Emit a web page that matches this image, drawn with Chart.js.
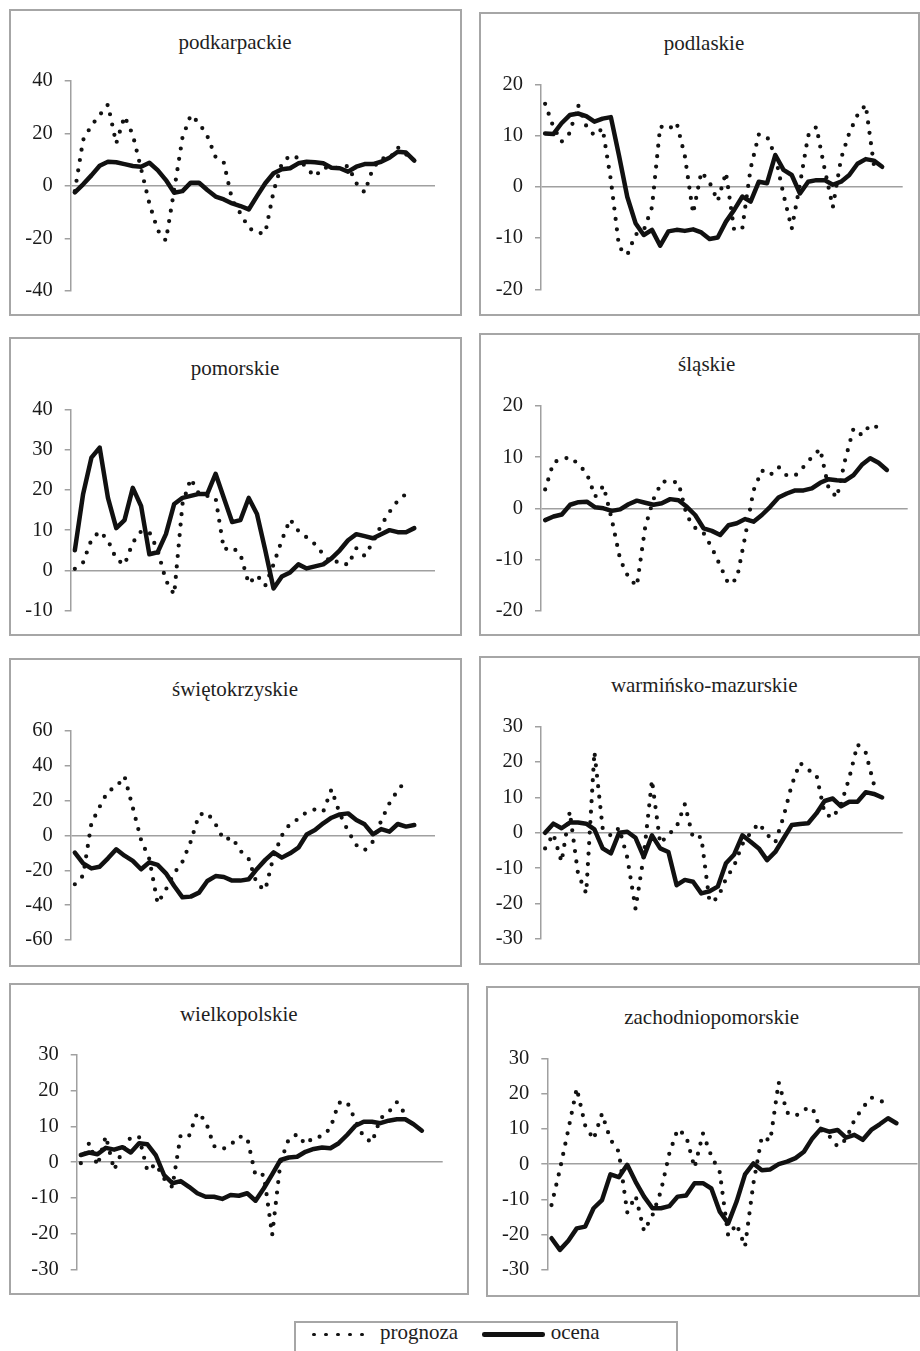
<!DOCTYPE html>
<html lang="pl">
<head>
<meta charset="utf-8">
<title>prognoza i ocena – województwa</title>
<script src="https://cdn.jsdelivr.net/npm/chart.js@4.4.1/dist/chart.umd.min.js"></script>
<style>
  html, body { margin: 0; padding: 0; background: #fff; }
  body { width: 920px; height: 1351px; position: relative; overflow: hidden;
         font-family: "Liberation Serif", "Times New Roman", "DejaVu Serif", serif; color: #222; }
  .panel { position: absolute; border: 2px solid #a6a6a6; box-sizing: border-box; }
  .title { position: absolute; width: 400px; text-align: center; font-size: 21px;
           line-height: 21px; white-space: nowrap; color: #1e1e1e; }
  canvas { position: absolute; }
  .legend-box { position: absolute; border: 2px solid #a6a6a6; box-sizing: border-box; }
  .legend-dots { position: absolute; display: flex; gap: 8.2px; }
  .legend-dots span { width: 3.8px; height: 3.8px; border-radius: 50%; background: #111; display: block; }
  .legend-line { position: absolute; height: 4.5px; border-radius: 2.25px; background: #111; }
  .legend-text { position: absolute; font-size: 21px; line-height: 21px; color: #1e1e1e; white-space: nowrap; }
</style>
</head>
<body>
<script>
// periods on the category axis (44 slots, the last two without observations)
const categories = ['1','2','3','4','5','6','7','8','9','10','11','12','13','14','15','16','17','18','19','20','21','22',
                    '23','24','25','26','27','28','29','30','31','32','33','34','35','36','37','38','39','40','41','42','43','44'];

const podkarpackiePrognoza = [-2, 17.5, 23, 27, 31, 16.2, 26.5, 19.5, 6.5, -6.7, -16.9, -20.9, -1.6, 18.4, 27, 24, 19, 11, 8.8, -5.4, -10.5, -16, -18, -18, -2.2, 8.6, 11.6, 10.6, 6.7, 3.5, 7, 6.7, 7, 7.6, 1, -2.5, 6.7, 10.5, 10.3, 14.7, 12, 10];
const podkarpackieOcena    = [-2.5, 0.6, 4, 7.7, 9.2, 9, 8.3, 7.6, 7.3, 8.8, 6, 2.2, -2.6, -2, 1.2, 1.2, -1.6, -4.1, -5.2, -6.7, -7.7, -9, -3.9, 1, 4.8, 6.3, 6.7, 8.6, 9.2, 9, 8.6, 6.9, 6.7, 5.4, 7.3, 8.3, 8.3, 9.2, 10.7, 13, 12.7, 9.6];
const podkarpackieTicks    = [-40, -20, 0, 20, 40];

const podlaskiePrognoza = [16.2, 11.7, 8.8, 10.5, 16, 11.9, 10, 11.4, 1.3, -11.8, -13.3, -9.3, -8.5, -4, 11.8, 11.2, 12.5, 6, -5.2, 2.9, 0.9, -2.8, 2.8, -8.5, -8, 3.6, 10.2, 9.8, 6, -1.5, -8.2, 0.5, 10, 11.7, 3.5, -4, 5.5, 10.5, 14, 16, 4.2, null];
const podlaskieOcena    = [10.4, 10.3, 12.4, 14, 14.3, 13.8, 12.7, 13.3, 13.6, 6, -2, -7.1, -9.4, -8.4, -11.5, -8.7, -8.4, -8.6, -8.3, -8.9, -10.2, -9.9, -6.8, -4.5, -1.9, -2.9, 1, 0.7, 6.2, 3.3, 2.3, -1.3, 1, 1.3, 1.3, 0.4, 1, 2.3, 4.5, 5.4, 5.1, 3.9];
const podlaskieTicks    = [-20, -10, 0, 10, 20];

const pomorskiePrognoza = [0.4, 2, 7.6, 9.7, 7.5, 2.8, 1.4, 6.9, 9.7, 9.5, 5, -2.5, -6, 16.5, 22.8, 19, 18.5, 18, 5.2, 5.8, 4, -3.3, -1.2, -3.8, 1.5, 7.5, 12.7, 9.8, 8.2, 6.5, 4, 1.8, 2.4, 1.3, 5.5, 3.6, 7, 11.2, 14.5, 17.3, 19, null];
const pomorskieOcena    = [5, 19, 28, 30.5, 18, 10.5, 12.5, 20.5, 16, 4, 4.5, 9, 16.5, 18, 18.5, 19, 19, 24, 18, 12, 12.5, 18, 14, 5, -4.5, -1.5, -0.5, 1.5, 0.5, 1, 1.5, 3, 5, 7.5, 9, 8.5, 8, 9, 10, 9.5, 9.5, 10.5];
const pomorskieTicks    = [-10, 0, 10, 20, 30, 40];

const slaskiePrognoza = [3.7, 9, 9.6, 10, 8.6, 6.8, 2.3, 4.4, -2.2, -10, -13.5, -15.2, -3.7, 1.8, 5.2, 5.3, 5, -1.5, -3.8, -4.8, -7.7, -11.2, -14.8, -13.8, -5.5, 3.5, 7.4, 6.5, 8.1, 6.4, 6.4, 8.1, 10, 11.6, 4, 2.1, 9.5, 15.6, 14.3, 16.3, 15.8, null];
const slaskieOcena    = [-2.3, -1.6, -1.2, 0.7, 1.2, 1.3, 0.2, 0, -0.5, -0.2, 0.8, 1.5, 1.1, 0.7, 1, 1.8, 1.6, 0.3, -1.3, -3.9, -4.4, -5.2, -3.3, -2.9, -2.1, -2.6, -1.3, 0.3, 2.1, 2.9, 3.5, 3.5, 3.9, 5, 5.7, 5.5, 5.4, 6.5, 8.5, 9.8, 8.9, 7.5];
const slaskieTicks    = [-20, -10, 0, 10, 20];

const swietokrzyskiePrognoza = [-28, -23, 7, 16.5, 25.5, 27.8, 34, 16, -2.5, -13.5, -39, -31, -21.7, -15, -3.5, 12, 13, 6.5, -2.5, -1.2, -8.8, -13.5, -28, -31.3, -12, 0, 6.8, 9.5, 13.5, 15, 13.7, 26.5, 12.5, 2.5, -5.5, -8.5, -3.5, 8.5, 18.5, 26, 31.5, null];
const swietokrzyskieOcena    = [-9.8, -16, -18.9, -17.9, -13.1, -7.9, -11.6, -14.6, -19.4, -15.4, -16.9, -21.7, -29, -35.5, -35.1, -32.8, -26.1, -23.3, -23.8, -25.9, -25.9, -25.1, -19.2, -14, -9.7, -12.7, -10.2, -7, 0.6, 3.1, 7, 10.2, 12.1, 12.7, 8.9, 6.4, 0.7, 3.7, 2.2, 6.6, 5.1, 6];
const swietokrzyskieTicks    = [-60, -40, -20, 0, 20, 40, 60];

const warminskoPrognoza = [-4.4, -0.3, -8.2, 6, -11.5, -17.1, 22.9, 1.3, -0.8, 1.4, -7, -21.5, -6.5, 14.9, -3, -0.5, 1.7, 8.1, -1.5, -1.1, -19.5, -18.5, -13, -9.3, -3.2, 0, 2.7, -0.5, -2.7, 4.5, 13.5, 19.8, 17.8, 16.5, 5.5, 4.2, 8.1, 15.5, 25, 22.7, 13.7, null];
const warminskoOcena    = [0, 2.6, 1.3, 2.9, 2.9, 2.6, 1, -4.4, -5.8, 0, 0.3, -1.4, -6.8, -0.7, -4.4, -5.4, -14.8, -13.3, -13.8, -17.1, -16.5, -15.2, -8.6, -6.1, -0.7, -2.5, -4.4, -7.7, -5.4, -1.6, 2.2, 2.5, 2.7, 5.5, 9, 9.7, 7.5, 8.8, 8.8, 11.5, 11, 10];
const warminskoTicks    = [-30, -20, -10, 0, 10, 20, 30];

const wielkopolskiePrognoza = [-0.3, 5.4, -1, 7.3, -2.2, 3.2, 7, 7, -2.5, -0.5, -4.6, -7, 7.6, 7.3, 13.9, 11.5, 4.5, 3.6, 4.8, 7.2, 6.8, -3.8, -3.5, -20.4, 0, 6.5, 7.8, 5, 7, 7.2, 9.5, 16.6, 16.9, 11.7, 7, 5.5, 12.2, 14, 16.8, 13.4, null, null];
const wielkopolskieOcena    = [2, 2.7, 2.2, 4, 3.5, 4.2, 2.7, 5.3, 5, 2, -3.6, -5.9, -5.3, -6.9, -8.7, -9.7, -9.7, -10.3, -9.2, -9.4, -8.7, -10.8, -7.3, -3.4, 0.6, 1.3, 1.5, 2.9, 3.7, 4.1, 3.9, 5.3, 7.6, 10.2, 11.3, 11.3, 10.9, 11.6, 12, 12, 10.6, 8.8];
const wielkopolskieTicks    = [-30, -20, -10, 0, 10, 20, 30];

const zachodniopomorskiePrognoza = [-11.6, -1.5, 9.8, 21.5, 11, 7, 14.3, 7, 3.5, -13.7, -9, -19, -14.5, -7.7, 3, 9.9, 8, -1, 8.7, 2.3, -2.3, -20.3, -17, -23.4, -5.4, 7.8, 6.6, 23.2, 14.6, 13.6, 15.5, 16, 9.7, 8, 5, 7, 12.5, 16, 18.9, 18, 17.2, null];
const zachodniopomorskieOcena    = [-21, -24.3, -21.7, -18.2, -17.7, -12.5, -10.2, -2.9, -3.7, -0.2, -5, -9.2, -12.5, -12.5, -11.9, -9.2, -8.9, -5.4, -5.4, -6.9, -13.5, -16.8, -10.6, -2.9, 0.2, -1.7, -1.5, 0, 0.7, 1.7, 3.5, 7.3, 10, 9.2, 9.7, 7.5, 8.3, 6.9, 9.7, 11.3, 13, 11.6];
const zachodniopomorskieTicks    = [-30, -20, -10, 0, 10, 20, 30];

// page layout of each small chart: frame box, plot area edges and title placement (px)
const panels = [
  { name: 'podkarpackie', prognoza: podkarpackiePrognoza, ocena: podkarpackieOcena, ticks: podkarpackieTicks,
    box: [10, 10, 451, 305], plot: [70.7, 435, 81, 290.7], title: [235, 50] },
  { name: 'podlaskie', prognoza: podlaskiePrognoza, ocena: podlaskieOcena, ticks: podlaskieTicks,
    box: [480, 13, 439, 302], plot: [541, 902.7, 84.3, 289.3], title: [704, 50.7] },
  { name: 'pomorskie', prognoza: pomorskiePrognoza, ocena: pomorskieOcena, ticks: pomorskieTicks,
    box: [10, 338, 451, 297], plot: [70.7, 435, 409.3, 611.7], title: [235, 375.5] },
  { name: 'śląskie', prognoza: slaskiePrognoza, ocena: slaskieOcena, ticks: slaskieTicks,
    box: [480, 334, 439, 301], plot: [541, 907.7, 406, 610.7], title: [706.7, 371.7] },
  { name: 'świętokrzyskie', prognoza: swietokrzyskiePrognoza, ocena: swietokrzyskieOcena, ticks: swietokrzyskieTicks,
    box: [10, 659, 451, 307], plot: [70.7, 435, 731, 940], title: [235, 696.7] },
  { name: 'warmińsko-mazurskie', prognoza: warminskoPrognoza, ocena: warminskoOcena, ticks: warminskoTicks,
    box: [480, 657, 439, 307], plot: [541, 902.7, 726.7, 939], title: [704.2, 692.5] },
  { name: 'wielkopolskie', prognoza: wielkopolskiePrognoza, ocena: wielkopolskieOcena, ticks: wielkopolskieTicks,
    box: [10, 984, 458, 310], plot: [76.7, 442.7, 1055, 1269.3], title: [238.8, 1021.7] },
  { name: 'zachodniopomorskie', prognoza: zachodniopomorskiePrognoza, ocena: zachodniopomorskieOcena, ticks: zachodniopomorskieTicks,
    box: [487, 987, 432, 309], plot: [547.3, 917.5, 1058.3, 1270], title: [711.7, 1025] }
];

const AXIS_GREY = '#a0a0a0';
const LINE_BLACK = '#111111';
// y-axis box wide enough that the labels (incl. the minus sign) stay inside the scale's clip area
const Y_AXIS_BOX = 58;
const FONT = "'Liberation Serif', 'Times New Roman', 'DejaVu Serif', serif";

function addFrame(p) {
  const [x, y, w, h] = p.box;
  const frame = document.createElement('div');
  frame.className = 'panel';
  frame.style.left = (x - 1) + 'px';
  frame.style.top = (y - 1) + 'px';
  frame.style.width = (w + 2) + 'px';
  frame.style.height = (h + 2) + 'px';
  document.body.appendChild(frame);

  const t = document.createElement('div');
  t.className = 'title';
  t.textContent = p.name;
  t.style.left = (p.title[0] - 200) + 'px';
  t.style.top = (p.title[1] - 17.6) + 'px';
  document.body.appendChild(t);
}

function addChart(p) {
  const [x, y, w, h] = p.box;
  const [pl, pr, pt, pb] = p.plot;
  const canvas = document.createElement('canvas');
  canvas.width = w;
  canvas.height = h;
  canvas.style.left = x + 'px';
  canvas.style.top = y + 'px';
  canvas.style.width = w + 'px';
  canvas.style.height = h + 'px';
  document.body.appendChild(canvas);

  new Chart(canvas, {
    type: 'line',
    data: {
      labels: categories,
      datasets: [
        { label: 'prognoza', data: p.prognoza, order: 1,
          borderColor: LINE_BLACK, borderWidth: 4.2, borderDash: [0, 10.5],
          borderCapStyle: 'round', borderJoinStyle: 'round',
          pointRadius: 0, tension: 0, fill: false, spanGaps: false, clip: false },
        { label: 'ocena', data: p.ocena, order: 0,
          borderColor: LINE_BLACK, borderWidth: 4.5,
          borderCapStyle: 'round', borderJoinStyle: 'round',
          pointRadius: 0, tension: 0, fill: false, clip: false }
      ]
    },
    options: {
      responsive: false,
      maintainAspectRatio: false,
      devicePixelRatio: 1,
      animation: false,
      events: [],
      layout: {
        padding: {
          left: pl - x - Y_AXIS_BOX,
          right: x + w - pr,
          top: pt - y,
          bottom: y + h - pb
        }
      },
      plugins: { legend: { display: false }, tooltip: { enabled: false }, title: { display: false } },
      scales: {
        x: { type: 'category', display: false, offset: true, grid: { display: false } },
        y: {
          position: 'left',
          min: p.ticks[0],
          max: p.ticks[p.ticks.length - 1],
          afterBuildTicks: (s) => { s.ticks = p.ticks.map(v => ({ value: v })); },
          afterFit: (s) => { s.width = Y_AXIS_BOX; },
          border: { display: true, color: AXIS_GREY, width: 1.5 },
          grid: {
            drawOnChartArea: true,
            drawTicks: true,
            tickLength: 6,
            tickColor: AXIS_GREY,
            lineWidth: 1.5,
            color: (c) => (c.tick && c.tick.value === 0) ? AXIS_GREY : 'rgba(0,0,0,0)'
          },
          ticks: {
            padding: 12,
            color: '#1a1a1a',
            font: { family: FONT, size: 20.5 },
            // plain hyphen-minus for negative values
            callback: (v) => (v < 0 ? '-' + Math.abs(v) : String(v))
          }
        }
      }
    }
  });
}

panels.forEach(p => { addFrame(p); addChart(p); });
</script>

<!-- shared legend -->
<div class="legend-box" style="left:294px; top:1321px; width:384px; height:80px;"></div>
<div class="legend-dots" style="left:312.4px; top:1332.6px;">
  <span></span><span></span><span></span><span></span><span></span>
</div>
<div class="legend-text" style="left:380px; top:1322.4px;">prognoza</div>
<div class="legend-line" style="left:482px; top:1332.3px; width:63px;"></div>
<div class="legend-text" style="left:550.7px; top:1322.4px;">ocena</div>
</body>
</html>
